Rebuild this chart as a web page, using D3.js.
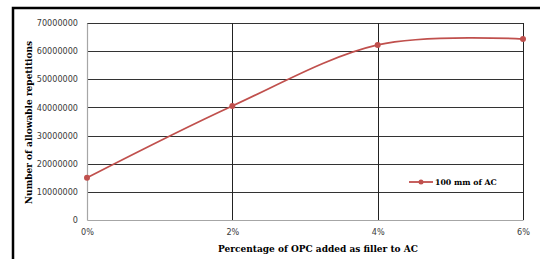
<!DOCTYPE html>
<html>
<head>
<meta charset="utf-8">
<script src="https://cdn.jsdelivr.net/npm/d3@7"></script>
<style>
  body { margin: 0; background: #fff; }
  svg { display: block; }
</style>
</head>
<body>
<svg id="chart"></svg>
<script>
const percents = [0, 2, 4, 6];
const repetitions = [15000000, 40500000, 62200000, 64300000];
const yTicks = [0, 10000000, 20000000, 30000000, 40000000, 50000000, 60000000, 70000000];
const seriesName = '100 mm of AC';

const width = 540, height = 259;
const margin = { top: 23, right: 17, bottom: 39, left: 87 };
const innerW = width - margin.left - margin.right;
const innerH = height - margin.top - margin.bottom;
const red = '#c0504d';
const titleFont = 'DejaVu Serif, serif';

const svg = d3.select('#chart')
  .attr('width', width)
  .attr('height', height);

// outer frame
svg.append('rect')
  .attr('x', 13).attr('y', 8)
  .attr('width', 560).attr('height', 300)
  .attr('fill', 'none')
  .attr('stroke', '#000')
  .attr('stroke-width', 2.5);

const g = svg.append('g')
  .attr('transform', `translate(${margin.left},${margin.top})`);

const x = d3.scaleLinear().domain([0, 6]).range([0, innerW]);
const y = d3.scaleLinear().domain([0, 70000000]).range([innerH, 0]);

// horizontal gridlines
g.selectAll('.hgrid')
  .data(yTicks.slice(1))
  .enter()
  .append('line')
  .attr('x1', 0).attr('x2', innerW)
  .attr('y1', d => Math.round(y(d)) + 0.5)
  .attr('y2', d => Math.round(y(d)) + 0.5)
  .attr('stroke', '#333')
  .attr('stroke-width', 1);

// vertical gridlines
g.selectAll('.vgrid')
  .data(percents.slice(1))
  .enter()
  .append('line')
  .attr('y1', 0).attr('y2', innerH)
  .attr('x1', d => Math.round(x(d)) + 0.5)
  .attr('x2', d => Math.round(x(d)) + 0.5)
  .attr('stroke', '#222')
  .attr('stroke-width', 1);

// axes
const yAxis = g.append('g')
  .call(d3.axisLeft(y).tickValues(yTicks).tickSize(0).tickPadding(9).tickFormat(d3.format('d')));
const xAxis = g.append('g')
  .attr('transform', `translate(0,${innerH})`)
  .call(d3.axisBottom(x).tickValues(percents).tickSize(0).tickPadding(9).tickFormat(d => d + '%'));

[yAxis, xAxis].forEach(a => {
  a.select('.domain').attr('stroke', '#a6a6a6').attr('stroke-width', 1.2);
  a.selectAll('text')
    .attr('fill', '#3a3a3a')
    .style('font-family', 'DejaVu Sans, Verdana, sans-serif')
    .style('font-size', '8.1px');
});

// line
const line = d3.line()
  .x((d, i) => x(percents[i]))
  .y(d => y(d))
  .curve(d3.curveCardinal.tension(0));

g.append('path')
  .datum(repetitions)
  .attr('d', line)
  .attr('fill', 'none')
  .attr('stroke', red)
  .attr('stroke-width', 1.8);

g.selectAll('.pt')
  .data(repetitions)
  .enter()
  .append('circle')
  .attr('cx', (d, i) => x(percents[i]))
  .attr('cy', d => y(d))
  .attr('r', 3)
  .attr('fill', red);

// legend
const lg = svg.append('g').attr('transform', 'translate(409,182)');
lg.append('line')
  .attr('x1', 0).attr('x2', 24)
  .attr('stroke', red).attr('stroke-width', 1.8);
lg.append('circle').attr('cx', 12).attr('r', 2.5).attr('fill', red);
lg.append('text')
  .attr('x', 26).attr('dy', '0.35em')
  .style('font-family', titleFont)
  .style('font-weight', 'bold')
  .style('font-size', '7.8px')
  .text(seriesName);

// axis titles
svg.append('text')
  .attr('x', 318).attr('y', 252)
  .attr('text-anchor', 'middle')
  .style('font-family', titleFont)
  .style('font-weight', 'bold')
  .style('font-size', '9px')
  .text('Percentage of OPC added as filler to AC');

svg.append('text')
  .attr('transform', 'translate(32,122.5) rotate(-90)')
  .attr('text-anchor', 'middle')
  .style('font-family', titleFont)
  .style('font-weight', 'bold')
  .style('font-size', '9px')
  .text('Number of allowable repetitions');
</script>
</body>
</html>
